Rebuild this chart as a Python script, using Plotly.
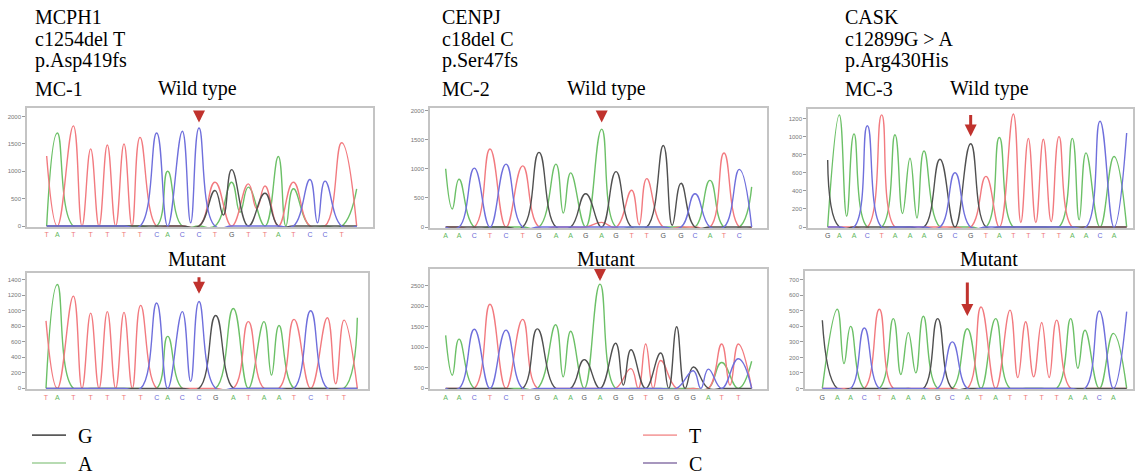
import plotly.graph_objects as go

# ---------------- DATA ----------------
# Panel 1 : MCPH1, MC-1
p1_wt_pos   = [140, 172, 220, 272, 322, 372, 420, 470, 503, 547, 597, 645, 695, 745, 795, 835, 880, 930, 975, 1025, 1070]
p1_wt_bases = ["T", "A", "T", "T", "T", "T", "T", "C", "A", "C", "C", "T", "G", "T", "T", "A", "T", "C", "C", "T", ""]
p1_wt_G = [0, 0, 0, 0, 0, 0, 0, 0, 0, 0, 0, 650, 1030, 0, 600, 0, 0, 0, 0, 0, 0]
p1_wt_A = [0, 1700, 0, 0, 0, 0, 0, 0, 1000, 0, 0, 0, 800, 710, 0, 1270, 680, 0, 0, 0, 680]
p1_wt_T = [1280, 0, 1830, 1410, 1480, 1500, 1620, 0, 0, 0, 0, 800, 0, 770, 730, 0, 800, 0, 0, 1520, 0]
p1_wt_C = [0, 0, 0, 0, 0, 0, 0, 1700, 0, 1730, 1790, 0, 0, 0, 0, 0, 0, 850, 820, 0, 0]
p1_wt_troughs = {"C": {9: 60, 17: 60}, "A": {12: 250}, "T": {13: 320}, "G": {11: 200}}

p1_mu_pos   = [138, 172, 220, 272, 322, 372, 422, 470, 503, 547, 597, 647, 700, 745, 792, 837, 882, 932, 982, 1032, 1072]
p1_mu_bases = ["T", "A", "T", "T", "T", "T", "T", "C", "A", "C", "C", "G", "A", "T", "A", "A", "T", "C", "T", "T", ""]
p1_mu_G = [0, 0, 0, 0, 0, 0, 0, 0, 0, 0, 0, 940, 0, 0, 0, 0, 0, 0, 0, 0, 0]
p1_mu_A = [0, 1340, 0, 0, 0, 0, 0, 0, 670, 0, 0, 0, 1030, 0, 860, 810, 0, 0, 0, 0, 910]
p1_mu_T = [870, 0, 1190, 970, 990, 980, 1070, 0, 0, 0, 0, 0, 0, 860, 0, 0, 890, 0, 910, 880, 0]
p1_mu_C = [0, 0, 0, 0, 0, 0, 0, 1100, 0, 990, 1120, 0, 0, 0, 0, 0, 0, 1000, 0, 0, 0]
p1_mu_troughs = {"C": {9: 90}, "A": {14: 170}, "T": {18: 60}}

# Panel 2 : CENPJ, MC-2
p2_wt_pos   = [197, 237, 283, 330, 378, 428, 477, 528, 572, 617, 665, 708, 755, 800, 850, 903, 945, 990, 1032, 1078, 1115]
p2_wt_bases = ["A", "A", "C", "T", "C", "T", "G", "A", "A", "G", "A", "G", "T", "T", "G", "G", "C", "A", "T", "C", ""]
p2_wt_G = [0, 0, 0, 0, 0, 0, 1280, 0, 0, 570, 0, 950, 0, 0, 1400, 750, 0, 0, 0, 0, 0]
p2_wt_A = [1000, 820, 0, 0, 0, 0, 0, 1080, 930, 0, 1680, 0, 0, 0, 0, 0, 0, 800, 0, 0, 690]
p2_wt_T = [0, 0, 0, 1340, 0, 1050, 0, 0, 0, 0, 80, 0, 630, 830, 0, 0, 0, 0, 1270, 0, 0]
p2_wt_C = [0, 0, 1010, 0, 1080, 0, 0, 0, 0, 0, 0, 0, 0, 0, 0, 0, 570, 0, 0, 990, 0]
p2_wt_troughs = {"A": {0: 310, 7: 240}, "T": {12: 40}, "G": {14: 30}}

p2_mu_pos   = [197, 237, 283, 330, 378, 428, 472, 527, 572, 613, 660, 707, 753, 797, 842, 890, 940, 985, 1025, 1075, 1115]
p2_mu_bases = ["A", "A", "C", "T", "C", "T", "G", "A", "A", "G", "A", "G", "G", "T", "G", "G", "G", "A", "T", "T", ""]
p2_mu_G = [0, 0, 0, 0, 0, 0, 1450, 0, 0, 700, 0, 1100, 940, 0, 860, 1500, 520, 0, 0, 0, 0]
p2_mu_A = [1290, 1200, 0, 0, 0, 0, 0, 1550, 1390, 0, 2540, 0, 0, 0, 0, 0, 0, 0, 630, 0, 660]
p2_mu_T = [0, 0, 0, 2050, 0, 1680, 0, 0, 0, 0, 0, 0, 480, 1080, 680, 0, 0, 0, 1080, 1080, 0]
p2_mu_C = [0, 0, 1440, 0, 1420, 0, 0, 0, 0, 0, 0, 0, 0, 0, 0, 0, 430, 470, 0, 720, 0]
p2_mu_troughs = {"A": {0: 320, 7: 280}, "G": {11: 80}, "T": {18: 80}}

# Panel 3 : CASK, MC-3
p3_wt_pos   = [203, 238, 282, 322, 365, 405, 450, 492, 540, 585, 632, 678, 718, 760, 805, 850, 897, 937, 978, 1020, 1062, 1100]
p3_wt_bases = ["G", "A", "A", "C", "T", "A", "A", "A", "G", "C", "G", "T", "A", "T", "T", "T", "T", "A", "A", "C", "A", ""]
p3_wt_G = [740, 0, 0, 0, 0, 0, 0, 0, 750, 0, 920, 0, 0, 0, 0, 0, 0, 0, 0, 0, 0, 0]
p3_wt_A = [0, 1240, 1030, 0, 0, 1020, 760, 840, 0, 0, 0, 0, 990, 0, 0, 0, 0, 980, 820, 0, 780, 0]
p3_wt_T = [0, 0, 0, 0, 1240, 0, 0, 0, 0, 0, 0, 560, 0, 1250, 980, 970, 1000, 0, 0, 0, 0, 0]
p3_wt_C = [0, 0, 0, 1120, 0, 0, 0, 0, 0, 600, 0, 0, 0, 0, 0, 0, 0, 0, 0, 1170, 0, 1040]
p3_wt_troughs = {"A": {1: 120, 5: 150, 6: 100, 17: 80}, "T": {13: 50, 14: 50, 15: 60}}

p3_mu_pos   = [187, 232, 272, 313, 358, 400, 445, 490, 533, 577, 622, 663, 707, 750, 797, 845, 890, 932, 975, 1018, 1060, 1100]
p3_mu_bases = ["G", "A", "A", "C", "T", "A", "A", "A", "G", "C", "A", "T", "A", "T", "T", "T", "T", "A", "A", "C", "A", ""]
p3_mu_G = [440, 0, 0, 0, 0, 0, 0, 0, 450, 0, 0, 0, 0, 0, 0, 0, 0, 0, 0, 0, 0, 0]
p3_mu_A = [0, 510, 400, 0, 0, 450, 360, 465, 0, 0, 385, 0, 450, 0, 0, 0, 0, 450, 375, 0, 355, 0]
p3_mu_T = [0, 0, 0, 0, 510, 0, 0, 0, 0, 0, 0, 525, 0, 505, 430, 425, 440, 0, 0, 0, 0, 0]
p3_mu_C = [0, 0, 0, 390, 0, 0, 0, 0, 0, 300, 0, 0, 0, 0, 0, 0, 0, 0, 0, 500, 0, 495]
p3_mu_troughs = {"A": {1: 160, 5: 90, 6: 100, 17: 130}, "T": {13: 70, 14: 75, 15: 70}}

mutation_index = 10  # base position marked by the red arrow (same in each panel)

gene_labels = [["MCPH1", "c1254del T", "p.Asp419fs"],
               ["CENPJ", "c18del C", "p.Ser47fs"],
               ["CASK", "c12899G > A", "p.Arg430His"]]
case_labels = ["MC-1", "MC-2", "MC-3"]
legend_bases = ["G", "A", "T", "C"]

# ---------------- STYLE / LAYOUT ----------------
W, H = 1135, 474
trace_colors = {"G": "#505050", "A": "#6cc067", "T": "#f27a7f", "C": "#6f6fdc"}
letter_colors = {"G": "#555555", "A": "#63b85d", "T": "#ee7a7a", "C": "#6a6ad6"}
legend_colors = {"G": "#5a5a5a", "A": "#9fcf98", "T": "#f5a3a3", "C": "#8a74a8"}
SERIF = "Liberation Serif, Times New Roman, serif"

panels = [
    dict(pos=p1_wt_pos, bases=p1_wt_bases, ch=dict(G=p1_wt_G, A=p1_wt_A, T=p1_wt_T, C=p1_wt_C), tr=p1_wt_troughs,
         px=(27, 373), py=(108, 228), xr=(81, 1119), yr=(-18, 2164), dt=500, tip=0.875, alen=12),
    dict(pos=p1_mu_pos, bases=p1_mu_bases, ch=dict(G=p1_mu_G, A=p1_mu_A, T=p1_mu_T, C=p1_mu_C), tr=p1_mu_troughs,
         px=(27, 368), py=(274, 391), xr=(81, 1104), yr=(-13, 1490), dt=200, tip=0.82, alen=18),
    dict(pos=p2_wt_pos, bases=p2_wt_bases, ch=dict(G=p2_wt_G, A=p2_wt_A, T=p2_wt_T, C=p2_wt_C), tr=p2_wt_troughs,
         px=(430, 767), py=(108, 229), xr=(150, 1161), yr=(-17, 2050), dt=500, tip=0.876, alen=12),
    dict(pos=p2_mu_pos, bases=p2_mu_bases, ch=dict(G=p2_mu_G, A=p2_mu_A, T=p2_mu_T, C=p2_mu_C), tr=p2_mu_troughs,
         px=(430, 767), py=(270, 391), xr=(150, 1161), yr=(-24, 2912), dt=500, tip=0.9, alen=10),
    dict(pos=p3_wt_pos, bases=p3_wt_bases, ch=dict(G=p3_wt_G, A=p3_wt_A, T=p3_wt_T, C=p3_wt_C), tr=p3_wt_troughs,
         px=(808, 1133), py=(109, 229), xr=(144, 1119), yr=(-11, 1310), dt=200, tip=0.767, alen=23),
    dict(pos=p3_mu_pos, bases=p3_mu_bases, ch=dict(G=p3_mu_G, A=p3_mu_A, T=p3_mu_T, C=p3_mu_C), tr=p3_mu_troughs,
         px=(805, 1133), py=(272, 391), xr=(135, 1119), yr=(-6, 758), dt=100, tip=0.62, alen=35),
]

fig = go.Figure()
layout = dict(width=W, height=H, margin=dict(l=0, r=0, t=0, b=0),
              paper_bgcolor="white", plot_bgcolor="white", showlegend=False)
annotations = []
shapes = []

for k, p in enumerate(panels, start=1):
    sfx = "" if k == 1 else str(k)
    xa, ya = "x" + sfx, "y" + sfx
    pos = p["pos"]
    n = len(pos)
    for base in ["A", "T", "G", "C"]:
        h = p["ch"][base]
        tro = p["tr"].get(base, {})
        xs, ys = [], []
        for i in range(n):
            xs.append(pos[i]); ys.append(h[i])
            # a trough point only between two neighbouring peaks of the same dye
            if i < n - 1 and (i in tro or (h[i] > 0 and h[i + 1] > 0)):
                xs.append((pos[i] + pos[i + 1]) / 2); ys.append(tro.get(i, 0))
        fig.add_trace(go.Scatter(x=xs, y=ys, mode="lines", xaxis=xa, yaxis=ya,
                                 line=dict(color=trace_colors[base], width=1.4, shape="spline", smoothing=1.3),
                                 hoverinfo="skip"))
    tickvals = [pos[i] for i in range(n) if p["bases"][i]]
    ticktext = ['<span style="color:%s">%s</span>' % (letter_colors[b], b) for b in p["bases"] if b]
    layout["xaxis" + sfx] = dict(domain=[p["px"][0] / W, p["px"][1] / W], anchor=ya, range=list(p["xr"]),
                                 tickvals=tickvals, ticktext=ticktext, ticks="", showgrid=False, zeroline=False,
                                 tickfont=dict(size=7, family="Arial"), showline=True, mirror=True,
                                 linecolor="#c4c4c4", linewidth=1.5)
    layout["yaxis" + sfx] = dict(domain=[1 - p["py"][1] / H, 1 - p["py"][0] / H], anchor=xa, range=list(p["yr"]),
                                 dtick=p["dt"], tick0=0, ticks="outside", ticklen=3, tickcolor="#999",
                                 tickfont=dict(size=6, color="#777", family="Arial"), showgrid=False,
                                 zeroline=False, showline=True, mirror=True, linecolor="#c4c4c4", linewidth=1.5)
    # red arrow marking the mutated base
    annotations.append(dict(x=pos[mutation_index], y=p["tip"], xref=xa, yref=ya + " domain", text="",
                            showarrow=True, ax=0, ay=-p["alen"], arrowhead=2, arrowsize=0.8,
                            arrowwidth=3, arrowcolor="#c0322d"))

# text labels
col_x = [33, 440, 843]
title_cx = [197, 606, 989]
for c in range(3):
    for j, line in enumerate(gene_labels[c]):
        annotations.append(dict(x=col_x[c] / W, y=1 - (17 + 22 * j) / H, xref="paper", yref="paper",
                                text=line, showarrow=False, xanchor="left", yanchor="middle",
                                font=dict(family=SERIF, size=20, color="black")))
    annotations.append(dict(x=col_x[c] / W, y=1 - 89 / H, xref="paper", yref="paper", text=case_labels[c],
                            showarrow=False, xanchor="left", yanchor="middle",
                            font=dict(family=SERIF, size=20, color="black")))
    annotations.append(dict(x=title_cx[c] / W, y=1 - 89 / H, xref="paper", yref="paper", text="Wild type",
                            showarrow=False, xanchor="center", yanchor="middle",
                            font=dict(family=SERIF, size=20, color="black")))
    annotations.append(dict(x=title_cx[c] / W, y=1 - 260 / H, xref="paper", yref="paper", text="Mutant",
                            showarrow=False, xanchor="center", yanchor="middle",
                            font=dict(family=SERIF, size=20, color="black")))

# legend (two columns)
leg_pos = {"G": (32, 437), "A": (32, 465), "T": (643, 437), "C": (643, 465)}
for b in legend_bases:
    lx, ly = leg_pos[b]
    shapes.append(dict(type="line", xref="paper", yref="paper", x0=lx / W, x1=(lx + 34) / W,
                       y0=1 - ly / H, y1=1 - ly / H, line=dict(color=legend_colors[b], width=1.6)))
    annotations.append(dict(x=(lx + 44) / W, y=1 - (ly + 1) / H, xref="paper", yref="paper", text=b,
                            showarrow=False, xanchor="left", yanchor="middle",
                            font=dict(family=SERIF, size=20, color="black")))

layout["annotations"] = annotations
layout["shapes"] = shapes
fig.update_layout(**layout)
fig.write_html("out.html", config={"displayModeBar": False},
               post_script="document.body.style.margin='0';document.body.style.padding='0';")
